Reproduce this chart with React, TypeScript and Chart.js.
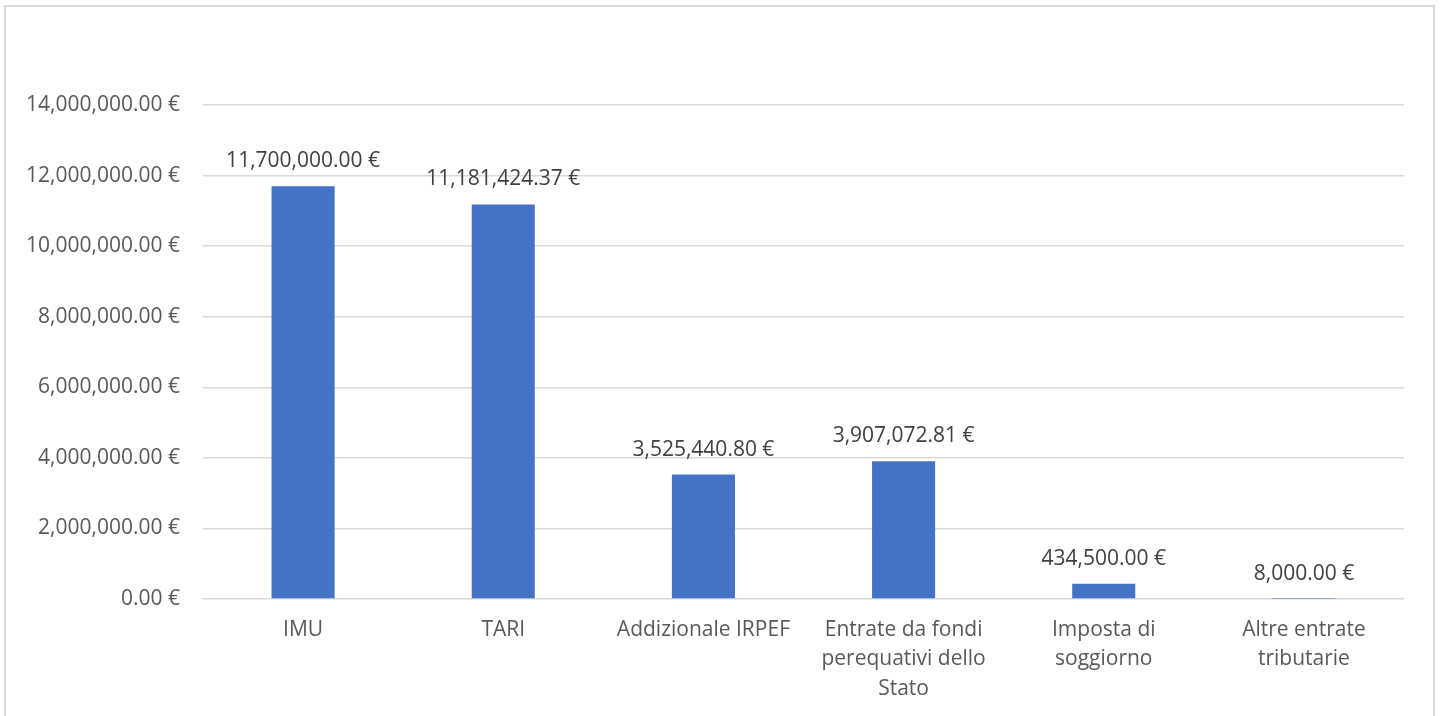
import React, { useEffect, useRef } from "react";
import { Chart, registerables } from "chart.js";

Chart.register(...registerables);

const categories: (string | string[])[] = [
  "IMU",
  "TARI",
  "Addizionale IRPEF",
  ["Entrate da fondi", "perequativi dello", "Stato"],
  ["Imposta di", "soggiorno"],
  ["Altre entrate", "tributarie"],
];
const values: number[] = [11700000, 11181424.37, 3525440.8, 3907072.81, 434500, 8000];
const yMin = 0;
const yMax = 14000000;
const yStep = 2000000;

const FONT = "'Open Sans', sans-serif";
const FS = 21;

const fmt = (v: number) =>
  v.toLocaleString("en-US", { minimumFractionDigits: 2, maximumFractionDigits: 2 }) + " €";

const dataLabels = {
  id: "dataLabels",
  afterDatasetsDraw(chart: any) {
    const ctx = chart.ctx;
    const meta = chart.getDatasetMeta(0);
    ctx.save();
    ctx.font = `${FS}px ${FONT}`;
    ctx.fillStyle = "#404040";
    ctx.textAlign = "center";
    ctx.textBaseline = "middle";
    meta.data.forEach((el: any, i: number) => {
      ctx.fillText(fmt(values[i]), el.x, el.y - 25);
    });
    ctx.restore();
  },
};

export default function App() {
  const ref = useRef<HTMLCanvasElement | null>(null);
  useEffect(() => {
    if (!ref.current) return;
    const chart = new Chart(ref.current, {
      type: "bar",
      data: {
        labels: categories,
        datasets: [
          {
            data: values,
            backgroundColor: "#4472C4",
            barPercentage: 0.63,
            categoryPercentage: 0.5,
          },
        ],
      },
      options: {
        animation: false,
        responsive: false,
        devicePixelRatio: 1,
        layout: { padding: { top: 105, right: 37, left: 0, bottom: 0 } },
        plugins: { legend: { display: false }, tooltip: { enabled: false } },
        scales: {
          x: {
            grid: { display: false, drawTicks: false },
            border: { display: false },
            ticks: {
              color: "#595959",
              font: { family: FONT, size: FS, lineHeight: 1.405 },
              padding: 16,
              maxRotation: 0,
              autoSkip: false,
            },
            afterFit: (s: any) => {
              s.height = 117;
            },
          },
          y: {
            min: yMin,
            max: yMax,
            grid: { color: "#d9d9d9", lineWidth: 1.5, drawTicks: false },
            border: { display: false },
            ticks: {
              stepSize: yStep,
              color: "#595959",
              font: { family: FONT, size: FS },
              padding: 23,
              callback: (v: any) => fmt(Number(v)),
            },
            afterFit: (s: any) => {
              s.width = 203;
            },
          },
        },
      },
      plugins: [dataLabels],
    });
    return () => chart.destroy();
  }, []);
  return (
    <div style={{ position: "fixed", left: 0, top: 0, width: 1441, height: 716, background: "#fff", overflow: "hidden" }}>
      <canvas ref={ref} width={1441} height={716} style={{ width: 1441, height: 716, display: "block" }} />
      <div
        style={{
          position: "absolute",
          left: 4,
          top: 5,
          width: 1427,
          height: 760,
          border: "2px solid #d9d9d9",
          pointerEvents: "none",
        }}
      />
    </div>
  );
}
